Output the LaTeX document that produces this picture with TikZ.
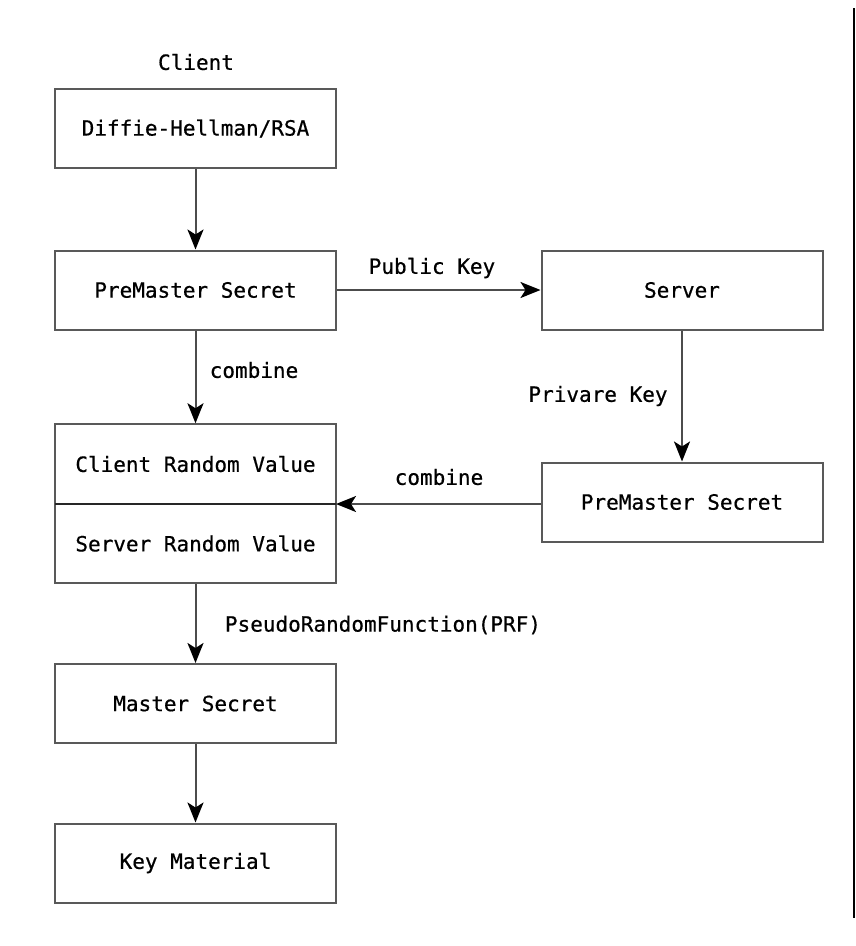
\documentclass[tikz,border=0pt]{standalone}
\usepackage{fontspec}
\setmonofont[FakeBold=0.6]{DejaVu Sans Mono}
\usetikzlibrary{arrows.meta}
\begin{document}
\begin{tikzpicture}[x=1pt,y=-1pt,
  every node/.style={font=\ttfamily\fontsize{21}{25}\selectfont, text=black},
  box/.style={draw=black!65, line width=2pt, fill=white, minimum width=281pt, minimum height=79pt, inner sep=0pt},
  arr/.style={draw=black!70, line width=2pt, -{Stealth[length=20pt,width=16pt,inset=5pt,color=black]}},
  lbl/.style={inner sep=0pt}]
\useasboundingbox (0,0) rectangle (856,946);
\draw[line width=2pt, black] (854,8) -- (854,918);
\node[lbl] (client) at (196,62) {Client};
\node[box] (dh) at (195.5,128.5) {Diffie-Hellman/RSA};
\node[box] (pms1) at (195.5,290) {PreMaster Secret};
\node[box] (server) at (682,290) {Server};
\node[box, minimum height=79.5pt] (crv) at (195.5,464) {Client Random Value};
\node[box, minimum height=79.5pt] (srv) at (195.5,543.5) {Server Random Value};
\coordinate (div) at (336,504);
\draw[line width=2pt, black!85] (55,504) -- (div);
\node[box] (pms2) at (682,502) {PreMaster Secret};
\node[box] (master) at (195.5,703.5) {Master Secret};
\node[box] (key) at (195.5,863) {Key Material};

\draw[arr] (dh.south) -- (pms1.north);
\draw[arr] (pms1.east) -- (server.west);
\node[lbl] (lpk) at (432,268) {Public Key};
\draw[arr] (pms1.south) -- (crv.north);
\node[lbl] (lc1) at (254,370) {combine};
\draw[arr] (server.south) -- (pms2.north);
\node[lbl] (lpr) at (598,396) {Privare Key};
\draw[arr] (pms2.west |- div) -- (div);
\node[lbl] (lc2) at (439,477) {combine};
\draw[arr] (srv.south) -- (master.north);
\node[lbl] (lprf) at (383,625) {PseudoRandomFunction(PRF)};
\draw[arr] (master.south) -- (key.north);
\end{tikzpicture}
\end{document}
